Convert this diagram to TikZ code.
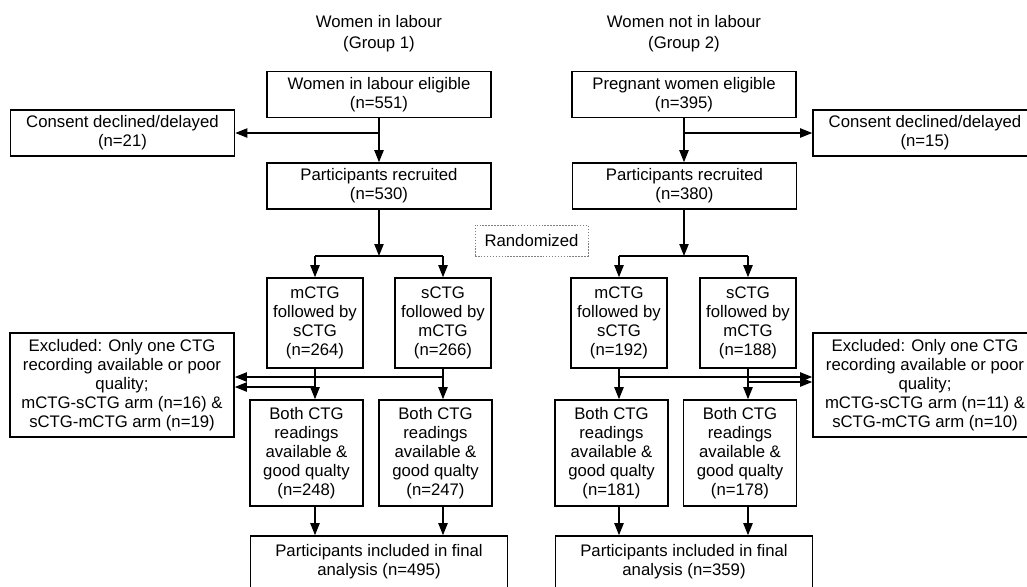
\documentclass[tikz,border=0pt]{standalone}
\usepackage{fontspec}
\setmainfont{Liberation Sans}
\usetikzlibrary{arrows.meta,positioning,calc}

\begin{document}
\begin{tikzpicture}[
  x=0.25mm, y=-0.25mm,
  font=\fontsize{11.9}{13.5}\selectfont,
  box/.style={draw, line width=1.1pt, align=center, inner sep=0pt},
  wide/.style={box, minimum width=56mm, minimum height=11.5mm},
  arm/.style={box, minimum width=24mm, minimum height=22.5mm},
  both/.style={box, minimum width=28.25mm, minimum height=26.5mm},
  excl/.style={box, minimum width=56mm, minimum height=26mm},
  final/.style={box, minimum width=64.25mm, minimum height=13mm},
  head/.style={align=center, inner sep=0pt, font=\fontsize{11.9}{15}\selectfont},
  link/.style={line width=1.1pt},
  arrow/.style={link, -{Triangle[length=3mm,width=2.3mm]}}
]
  \useasboundingbox (0,0) rectangle (1027,586);

  % group headers
  \node[head] (head1) at (379,34) {Women in labour\\(Group 1)};
  \node[head] (head2) at (684,34) {Women not in labour\\(Group 2)};

  % group 1
  \node[wide] (elig1) at (379,94.5) {Women in labour eligible\\(n=551)};
  \node[wide] (consent1) at (122.5,133) {Consent declined/delayed\\(n=21)};
  \node[wide] (recr1) at (379,186) {Participants recruited\\(n=530)};
  \node[arm] (m1) at (315,323) {mCTG\\followed by\\sCTG\\(n=264)};
  \node[arm] (s1) at (443,323) {sCTG\\followed by\\mCTG\\(n=266)};
  \node[excl] (excl1) at (122,385) {Excluded: Only one CTG\\recording available or poor\\quality;\\mCTG-sCTG arm (n=16) \&\\sCTG-mCTG arm (n=19)};
  \node[both] (both1a) at (306.5,453) {Both CTG\\readings\\available \&\\good qualty\\(n=248)};
  \node[both] (both1b) at (435.5,453) {Both CTG\\readings\\available \&\\good qualty\\(n=247)};
  \node[final] (final1) at (379,562) {Participants included in final\\analysis (n=495)};

  % group 2
  \node[wide] (elig2) at (684,94.5) {Pregnant women eligible\\(n=395)};
  \node[wide] (consent2) at (925,133) {Consent declined/delayed\\(n=15)};
  \node[wide] (recr2) at (684.5,186) {Participants recruited\\(n=380)};
  \node[arm] (m2) at (619,323) {mCTG\\followed by\\sCTG\\(n=192)};
  \node[arm] (s2) at (748,323) {sCTG\\followed by\\mCTG\\(n=188)};
  \node[excl] (excl2) at (925,385) {Excluded: Only one CTG\\recording available or poor\\quality;\\mCTG-sCTG arm (n=11) \&\\sCTG-mCTG arm (n=10)};
  \node[both] (both2a) at (611.5,453) {Both CTG\\readings\\available \&\\good qualty\\(n=181)};
  \node[both] (both2b) at (740,453) {Both CTG\\readings\\available \&\\good qualty\\(n=178)};
  \node[final] (final2) at (684,562) {Participants included in final\\analysis (n=359)};

  \node[box, draw=gray, densely dotted, line width=0.7pt, minimum width=28.25mm, minimum height=7.75mm] (rand) at (531.5,240.5) {Randomized};

  % junctions
  \coordinate (split1) at (379,256);
  \coordinate (split2) at (684,256);
  \coordinate (out1s) at (443,377);
  \coordinate (out1m) at (315,387);
  \coordinate (out2m) at (619,377);
  \coordinate (out2s) at (748,382);

  % group 1 flow
  \draw[arrow] (elig1) -- (recr1);
  \draw[arrow] (elig1.south |- consent1.east) -- (consent1.east);
  \draw[arrow] (recr1) -- (split1);
  \draw[link] (m1.north |- split1) -- (s1.north |- split1);
  \draw[arrow] (m1.north |- split1) -- (m1);
  \draw[arrow] (s1.north |- split1) -- (s1);
  \draw[arrow] (m1) -- (m1.south |- both1a.north);
  \draw[arrow] (s1) -- (s1.south |- both1b.north);
  \draw[arrow] (out1s) -- (out1s -| excl1.east);
  \draw[arrow] (out1m) -- (out1m -| excl1.east);
  \draw[arrow] (m1.south |- both1a.south) -- (m1.south |- final1.north);
  \draw[arrow] (s1.south |- both1b.south) -- (s1.south |- final1.north);

  % group 2 flow
  \draw[arrow] (elig2) -- (elig2 |- recr2.north);
  \draw[arrow] (elig2.south |- consent2.west) -- (consent2.west);
  \draw[arrow] (recr2.south -| split2) -- (split2);
  \draw[link] (m2.north |- split2) -- (s2.north |- split2);
  \draw[arrow] (m2.north |- split2) -- (m2);
  \draw[arrow] (s2.north |- split2) -- (s2);
  \draw[arrow] (m2) -- (m2.south |- both2a.north);
  \draw[arrow] (s2) -- (s2.south |- both2b.north);
  \draw[arrow] (out2m) -- (out2m -| excl2.west);
  \draw[arrow] (out2s) -- (out2s -| excl2.west);
  \draw[arrow] (m2.south |- both2a.south) -- (m2.south |- final2.north);
  \draw[arrow] (s2.south |- both2b.south) -- (s2.south |- final2.north);
\end{tikzpicture}
\end{document}
